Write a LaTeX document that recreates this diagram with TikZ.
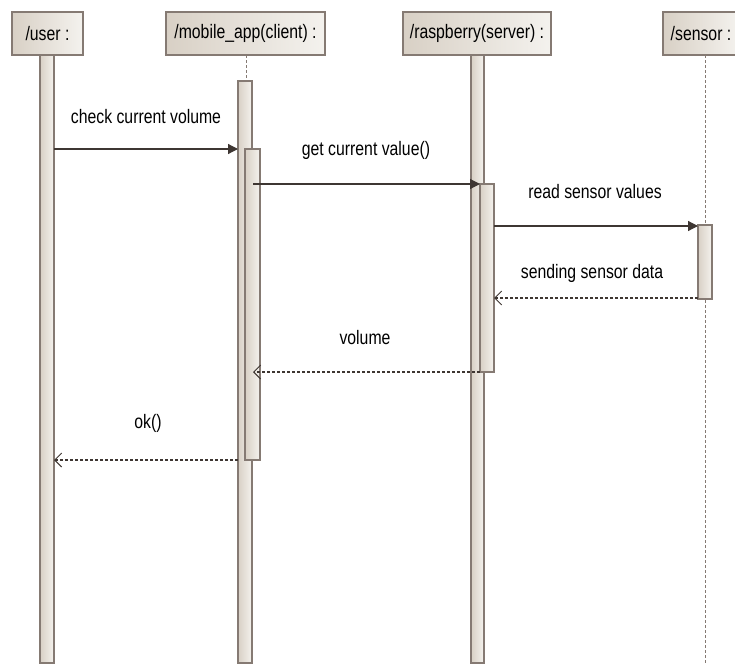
\documentclass[tikz,border=0pt]{standalone}
\usepackage{fontspec}
\newfontfamily\umlfont[FakeStretch=0.81]{Liberation Sans}
\usetikzlibrary{arrows.meta}
\definecolor{boxedge}{HTML}{857A73}
\definecolor{boxlight}{HTML}{F4F2EE}
\definecolor{boxdark}{HTML}{D8D0C5}
\definecolor{msgline}{HTML}{3E3632}
\tikzset{
  objbox/.style={draw=boxedge, line width=1.3pt, left color=boxdark, right color=boxlight,
    minimum height=43pt, inner sep=0pt, font=\umlfont\fontsize{19.5}{21}\selectfont},
  lifebar/.style={draw=boxedge, line width=1.1pt, left color=boxdark, right color=boxlight},
  lifedash/.style={draw=boxedge, line width=0.9pt, dash pattern=on 3pt off 2pt},
  callmsg/.style={draw=msgline, line width=1.2pt, -{Triangle[length=10pt,width=10pt]}},
  replymsg/.style={draw=msgline, line width=1.1pt, dash pattern=on 3pt off 2pt,
    -{Straight Barb[length=7pt,width=14pt,line width=1pt]}},
  msglabel/.style={font=\umlfont\fontsize{19.5}{21}\selectfont, inner sep=0pt}
}
\begin{document}
\begin{tikzpicture}[x=1pt,y=-1pt]
  \useasboundingbox (0,0) rectangle (735,667);
  \clip (0,0) rectangle (735,667);
  % lifelines
  \draw[lifedash] (246,55) -- (246,81);
  \draw[lifebar] (40,55) rectangle (54,663);
  \draw[lifebar] (238,81) rectangle (252,663);
  \draw[lifebar] (471,55) rectangle (484,663);
  \draw[lifedash] (705,55) -- (705,663);
  % activations
  \draw[lifebar] (245,149) rectangle (260,460);
  \draw[lifebar] (480,184) rectangle (494,372);
  \draw[lifebar] (698,225) rectangle (712,299);
  % objects
  \node[objbox, minimum width=71pt] (user) at (47.5,33.5) {/user :};
  \node[objbox, minimum width=159pt] (app) at (245.5,33.5) {/mobile\_app(client) :};
  \node[objbox, minimum width=148pt] (pi) at (477,33.5) {/raspberry(server) :};
  \node[objbox, minimum width=76pt] (sensor) at (701,33.5) {/sensor :};
  % message ends
  \coordinate (userA) at (54,149);
  \coordinate (appA) at (238,149);
  \coordinate (appB) at (253,184);
  \coordinate (piB) at (480,184);
  \coordinate (piC) at (494,226);
  \coordinate (sensorC) at (698,226);
  \coordinate (sensorD) at (698,298);
  \coordinate (piD) at (494,298);
  \coordinate (piE) at (480,372);
  \coordinate (appE) at (253,372);
  \coordinate (appF) at (238,460);
  \coordinate (userF) at (54,460);
  % messages
  \draw[callmsg] (userA) -- (appA);
  \draw[callmsg] (appB) -- (piB);
  \draw[callmsg] (piC) -- (sensorC);
  \draw[replymsg] (sensorD) -- (piD);
  \draw[replymsg] (piE) -- (appE);
  \draw[replymsg] (appF) -- (userF);
  \node[msglabel] (check) at (146,117) {check current volume};
  \node[msglabel] (get) at (366,150) {get current value()};
  \node[msglabel] (read) at (595,192) {read sensor values};
  \node[msglabel] (send) at (592,273) {sending sensor data};
  \node[msglabel] (vol) at (365,338) {volume};
  \node[msglabel] (ok) at (148,423) {ok()};
\end{tikzpicture}
\end{document}
